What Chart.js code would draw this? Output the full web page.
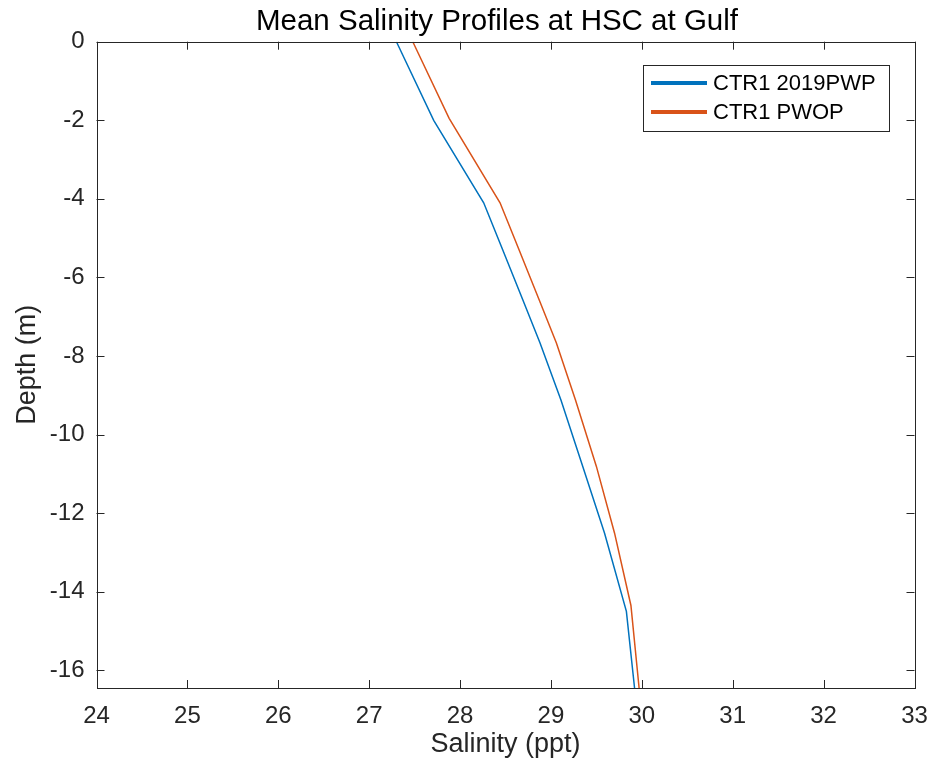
<!DOCTYPE html>
<html>
<head>
<meta charset="utf-8">
<script src="https://cdn.jsdelivr.net/npm/chart.js@4"></script>
<style>
  html, body { margin: 0; padding: 0; background: #fff; }
  #wrap { width: 932px; height: 767px; }
</style>
</head>
<body>
<div id="wrap"><canvas id="salinityChart" width="932" height="767"></canvas></div>
<script>
// Mean salinity profiles
const chartTitle = 'Mean Salinity Profiles at HSC at Gulf';
const seriesNames = ['CTR1 2019PWP', 'CTR1 PWOP'];
const depth2019 = [0, -2, -4.1, -5.3, -6.57, -7.67, -9.12, -10.81, -12.51, -14.5, -16.45];
const salinity2019 = [27.30, 27.71, 28.26, 28.47, 28.69, 28.88, 29.11, 29.35, 29.59, 29.83, 29.92];
const depthPwop = [0, -1.95, -4.1, -5.3, -6.57, -7.67, -9.12, -10.81, -12.51, -14.35, -16.45];
const salinityPwop = [27.48, 27.88, 28.44, 28.65, 28.87, 29.06, 29.27, 29.50, 29.70, 29.88, 29.97];
const xTicks = [24, 25, 26, 27, 28, 29, 30, 31, 32, 33];
const yTicks = [0, -2, -4, -6, -8, -10, -12, -14, -16];

const axisColor = '#262626';
const colors = ['#0072BD', '#D95319'];
const fontFamily = '"Liberation Sans", Arial, sans-serif';

function toPoints(xs, ys) {
    return xs.map((x, i) => ({ x: x, y: ys[i] }));
}

// box round the axes, ticks pointing inwards on all four sides, legend and title
const boxPlugin = {
    id: 'matlabBox',
    afterDatasetsDraw(chart) {
        const { ctx, chartArea: a, scales } = chart;
        const len = 8;
        ctx.save();
        ctx.strokeStyle = axisColor;
        ctx.lineWidth = 1;
        ctx.beginPath();
        xTicks.forEach(v => {
            const px = Math.round(scales.x.getPixelForValue(v)) + 0.5;
            ctx.moveTo(px, a.bottom); ctx.lineTo(px, a.bottom - len);
            ctx.moveTo(px, a.top); ctx.lineTo(px, a.top + len);
        });
        yTicks.forEach(v => {
            const py = Math.round(scales.y.getPixelForValue(v)) + 0.5;
            ctx.moveTo(a.left, py); ctx.lineTo(a.left + len, py);
            ctx.moveTo(a.right, py); ctx.lineTo(a.right - len, py);
        });
        ctx.stroke();
        ctx.strokeRect(Math.round(a.left) + 0.5, Math.round(a.top) + 0.5,
            Math.round(a.right - a.left), Math.round(a.bottom - a.top));

        // title
        ctx.fillStyle = '#000';
        ctx.font = '29.5px ' + fontFamily;
        ctx.textAlign = 'center';
        ctx.textBaseline = 'middle';
        ctx.fillText(chartTitle, 497, 22);

        // legend box, top right inside the axes
        const bx = 643, by = 65, bw = 246, bh = 66;
        ctx.textAlign = 'left';
        ctx.fillStyle = '#fff';
        ctx.fillRect(bx, by, bw, bh);
        ctx.strokeRect(bx + 0.5, by + 0.5, bw, bh);
        ctx.font = '22px ' + fontFamily;
        chart.data.datasets.forEach((ds, i) => {
            const ly = by + 18 + i * 29;
            ctx.strokeStyle = ds.borderColor;
            ctx.lineWidth = 4;
            ctx.beginPath();
            ctx.moveTo(bx + 8, ly); ctx.lineTo(bx + 64, ly);
            ctx.stroke();
            ctx.fillStyle = '#000';
            ctx.fillText(ds.label, bx + 70, ly + 1);
        });
        ctx.restore();
    }
};

new Chart(document.getElementById('salinityChart'), {
    type: 'scatter',
    data: {
        datasets: [
            {
                label: seriesNames[0],
                data: toPoints(salinity2019, depth2019),
                borderColor: colors[0],
                backgroundColor: colors[0],
                showLine: true,
                borderWidth: 1.5,
                pointRadius: 0,
                tension: 0
            },
            {
                label: seriesNames[1],
                data: toPoints(salinityPwop, depthPwop),
                borderColor: colors[1],
                backgroundColor: colors[1],
                showLine: true,
                borderWidth: 1.5,
                pointRadius: 0,
                tension: 0
            }
        ]
    },
    options: {
        responsive: false,
        animation: false,
        layout: { autoPadding: false, padding: { left: 0, right: 17.5, top: 41.7, bottom: 0 } },
        plugins: {
            legend: { display: false },
            tooltip: { enabled: false },
            title: { display: false }
        },
        scales: {
            x: {
                type: 'linear',
                min: 24,
                max: 33,
                afterBuildTicks: s => { s.ticks = xTicks.map(v => ({ value: v })); },
                afterFit: s => { s.height = 79; s.paddingLeft = 0; s.paddingRight = 0; },
                grid: { display: false, drawTicks: false },
                border: { display: false },
                ticks: {
                    color: axisColor,
                    padding: 14,
                    maxRotation: 0,
                    font: { family: fontFamily, size: 24 }
                },
                title: {
                    display: true,
                    text: 'Salinity (ppt)',
                    color: axisColor,
                    font: { family: fontFamily, size: 27 },
                    padding: { top: 0, bottom: 6 }
                }
            },
            y: {
                type: 'linear',
                min: -16.45,
                max: 0,
                afterBuildTicks: s => { s.ticks = yTicks.map(v => ({ value: v })); },
                afterFit: s => { s.width = 96.5; s.paddingTop = 0; s.paddingBottom = 0; },
                grid: { display: false, drawTicks: false },
                border: { display: false },
                ticks: {
                    color: axisColor,
                    padding: 12,
                    font: { family: fontFamily, size: 24 }
                },
                title: {
                    display: true,
                    text: 'Depth (m)',
                    color: axisColor,
                    font: { family: fontFamily, size: 27 },
                    padding: { top: 11, bottom: 0 }
                }
            }
        }
    },
    plugins: [boxPlugin]
});
</script>
</body>
</html>
